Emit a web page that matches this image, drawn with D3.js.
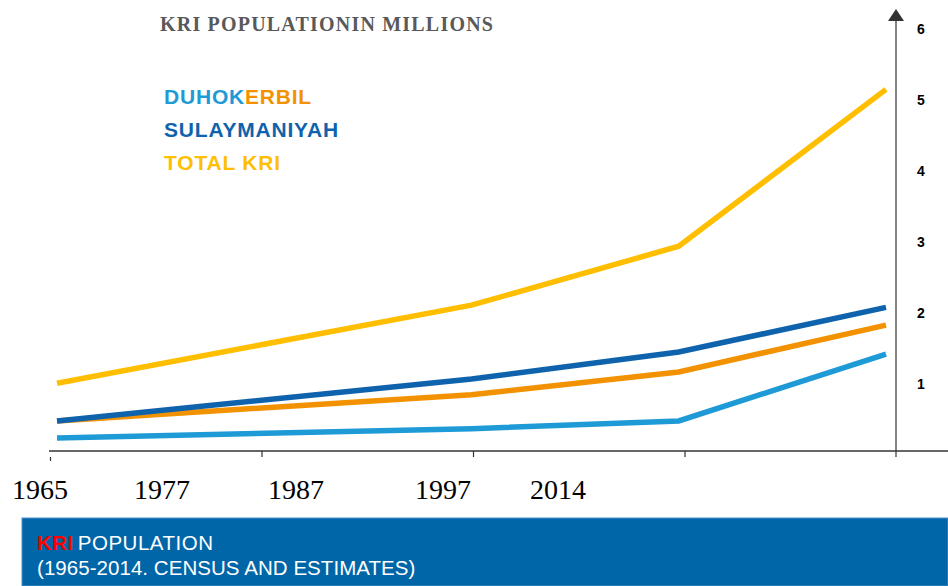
<!DOCTYPE html>
<html>
<head>
<meta charset="utf-8">
<script src="https://cdn.jsdelivr.net/npm/d3@7"></script>
<style>
  body { margin: 0; background: #fff; }
  svg { display: block; }
</style>
</head>
<body>
<script>
// data (millions)
const years = ["1965", "1977", "1987", "1997", "2014"];
const slots = [0, 2, 3, 4];           // where the points fall along the x axis
const duhok = [0.24, 0.37, 0.48, 1.42];
const erbil = [0.48, 0.85, 1.17, 1.83];
const sulaymaniyah = [0.48, 1.07, 1.45, 2.08];
const totalKri = [1.01, 2.11, 2.94, 5.15];
const yTicks = [1, 2, 3, 4, 5, 6];

const W = 948, H = 586;
const axisY = 451;
const yearLabelX = [12, 134, 268, 415, 530];

const svg = d3.select("body").append("svg")
    .attr("width", W)
    .attr("height", H);

// scales
const x = d3.scaleLinear().domain([0, 4]).range([57, 886]);
const xTick = d3.scaleLinear().domain([0, 4]).range([50, 896]);
const y = d3.scaleLinear().domain([0, 6]).range([455, 29]);

// title
svg.append("text")
    .attr("x", 160)
    .attr("y", 31)
    .attr("font-family", "Liberation Serif, Times New Roman, serif")
    .attr("font-weight", "bold")
    .attr("font-size", 20)
    .attr("letter-spacing", 1.2)
    .attr("fill", "#595959")
    .text("KRI POPULATIONIN MILLIONS");

// x axis
const xAxis = svg.append("g")
    .attr("transform", "translate(0," + axisY + ")")
    .call(d3.axisBottom(xTick).tickValues([0, 1, 2, 3]).tickFormat("").tickSize(6).tickSizeOuter(0));
xAxis.select(".domain").remove();
xAxis.append("line")
    .attr("x1", 49).attr("x2", W)
    .attr("stroke", "#333").attr("stroke-width", 1.5);
xAxis.selectAll(".tick line").attr("stroke", "#333").attr("stroke-width", 1.2);
// the first tick sits a little below the line
xAxis.selectAll(".tick").filter(d => d === 0).select("line")
    .attr("y1", 6).attr("y2", 10);

svg.selectAll(".year")
    .data(years)
    .join("text")
    .attr("class", "year")
    .attr("x", (d, i) => yearLabelX[i])
    .attr("y", 499)
    .attr("font-family", "Liberation Serif, Times New Roman, serif")
    .attr("font-size", 28)
    .attr("fill", "#000")
    .text(d => d);

// y axis with arrow
svg.append("line")
    .attr("x1", xTick(4)).attr("x2", xTick(4))
    .attr("y1", 20).attr("y2", axisY + 6)
    .attr("stroke", "#333").attr("stroke-width", 1.2);
svg.append("path")
    .attr("d", "M" + xTick(4) + ",9 l8,12 l-16,0 Z")
    .attr("fill", "#333");

svg.selectAll(".ylab")
    .data(yTicks)
    .join("text")
    .attr("class", "ylab")
    .attr("x", 921)
    .attr("y", d => y(d))
    .attr("dy", "0.36em")
    .attr("text-anchor", "middle")
    .attr("font-family", "Liberation Sans, Arial, sans-serif")
    .attr("font-weight", "bold")
    .attr("font-size", 14)
    .attr("fill", "#000")
    .text(d => d);

// lines
const series = [
    {name: "DUHOK", values: duhok, color: "#1e9ad6"},
    {name: "ERBIL", values: erbil, color: "#f39200"},
    {name: "SULAYMANIYAH", values: sulaymaniyah, color: "#0f63ac"},
    {name: "TOTAL KRI", values: totalKri, color: "#ffbf00"}
];

const line = d3.line()
    .x((d, i) => x(slots[i]))
    .y(d => y(d));

svg.selectAll(".series")
    .data(series)
    .join("path")
    .attr("class", "series")
    .attr("d", d => line(d.values))
    .attr("fill", "none")
    .attr("stroke", d => d.color)
    .attr("stroke-width", 5.5);

// legend
const legend = svg.append("g")
    .attr("font-family", "Liberation Sans, Arial, sans-serif")
    .attr("font-weight", "bold")
    .attr("font-size", 21)
    .attr("letter-spacing", 0.8);

const row1 = legend.append("text").attr("x", 164).attr("y", 104);
row1.append("tspan").attr("fill", series[0].color).text(series[0].name);
row1.append("tspan").attr("fill", series[1].color).text(series[1].name);
legend.append("text").attr("x", 164).attr("y", 137)
    .attr("fill", series[2].color).text(series[2].name);
legend.append("text").attr("x", 164).attr("y", 170)
    .attr("fill", series[3].color).text(series[3].name);

// banner
svg.append("rect")
    .attr("x", 22).attr("y", 518)
    .attr("width", W - 22).attr("height", H - 518)
    .attr("fill", "#0066a8")
    .attr("stroke", "#4a8fcf").attr("stroke-width", 1);

const b1 = svg.append("text")
    .attr("x", 37).attr("y", 550)
    .attr("font-family", "Liberation Sans, Arial, sans-serif")
    .attr("font-size", 20.5)
    .attr("letter-spacing", 0.5);
b1.append("tspan").attr("fill", "#ff0000").attr("font-weight", "bold").text("KRI");
b1.append("tspan").attr("fill", "#fff").attr("dx", 4).text("POPULATION");

svg.append("text")
    .attr("x", 37).attr("y", 575)
    .attr("font-family", "Liberation Sans, Arial, sans-serif")
    .attr("font-size", 20.5)
    .attr("letter-spacing", 0.05)
    .attr("fill", "#fff")
    .text("(1965-2014. CENSUS AND ESTIMATES)");
</script>
</body>
</html>
